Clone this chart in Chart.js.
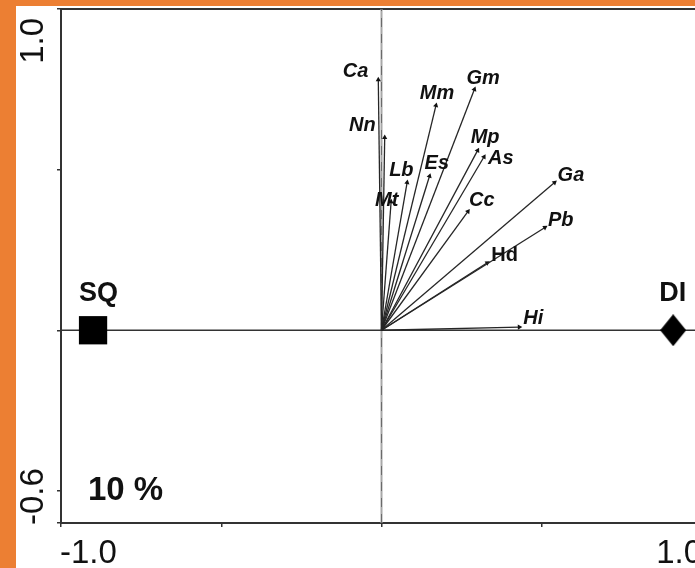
<!DOCTYPE html>
<html>
<head>
<meta charset="utf-8">
<script src="https://cdn.jsdelivr.net/npm/chart.js@4.4.0/dist/chart.umd.min.js"></script>
<style>
  html, body { margin: 0; padding: 0; width: 695px; height: 568px; overflow: hidden; background: #fff; }
  #wrap { position: absolute; left: 0; top: -11px; width: 740px; height: 579px; }
  .band { position: absolute; background: #ec7f33; z-index: 2; }
</style>
</head>
<body>
<div id="wrap"><canvas id="ord" width="740" height="579"></canvas></div>
<div class="band" style="left:0;top:0;width:16px;height:568px"></div>
<div class="band" style="left:0;top:0;width:695px;height:6px"></div>
<script>
// species arrows (axis 1 / axis 2 scores)
const speciesNames = ['Ca', 'Nn', 'Mm', 'Gm', 'Mp', 'As', 'Lb', 'Es', 'Mt', 'Cc', 'Ga', 'Pb', 'Hd', 'Hi'];
const speciesX = [-0.01, 0.01, 0.17, 0.29, 0.30, 0.32, 0.08, 0.15, 0.03, 0.27, 0.54, 0.51, 0.33, 0.43];
const speciesY = [0.78, 0.60, 0.70, 0.75, 0.56, 0.54, 0.46, 0.48, 0.40, 0.37, 0.46, 0.32, 0.21, 0.01];

// treatment centroids
const sampleNames = ['SQ', 'DI'];
const sampleX = [-0.90, 0.91];
const sampleY = [0, 0];

// axis ends
const xTickValues = [-1.0, 1.0];
const xTickLabels = ['-1.0', '1.0'];
const yTickValues = [-0.6, 1.0];
const yTickLabels = ['-0.6', '1.0'];
const explained = '10 %';

// label placement next to arrow tips: dx, dy (px), align
const labelPos = {
  Ca: [-10, -8, 'right'], Nn: [-9, -12, 'right'], Mm: [1, -12, 'center'], Gm: [-8, -11, 'left'],
  Mp: [-7, -13, 'left'], As: [4, 2, 'left'], Lb: [-18, -12, 'left'], Es: [-5, -13, 'left'],
  Mt: [-16, -1, 'left'], Cc: [1, -11, 'left'], Ga: [3, -7, 'left'], Pb: [3, -7, 'left'],
  Hd: [4, -7, 'left'], Hi: [4, -9, 'left']
};

function diamond(w, h) {
  const c = document.createElement('canvas');
  c.width = w; c.height = h;
  const g = c.getContext('2d');
  g.fillStyle = '#000';
  g.beginPath();
  g.moveTo(w / 2, 0); g.lineTo(w, h / 2); g.lineTo(w / 2, h); g.lineTo(0, h / 2);
  g.closePath(); g.fill();
  return c;
}

const datasets = [];

// zero lines (high order = drawn underneath)
datasets.push({
  data: [{x: 0, y: yTickValues[0]}, {x: 0, y: yTickValues[1]}],
  borderColor: '#a8a8a8', borderWidth: 2, pointRadius: 0, showLine: true, order: 12
});
datasets.push({
  data: [{x: 0, y: yTickValues[0]}, {x: 0, y: yTickValues[1]}],
  borderColor: '#6a6a6a', borderWidth: 1, borderDash: [9, 7], pointRadius: 0, showLine: true, order: 11
});
datasets.push({
  data: [{x: xTickValues[0], y: 0}, {x: xTickValues[1], y: 0}],
  borderColor: '#333', borderWidth: 1.5, pointRadius: 0, showLine: true, order: 10
});

speciesNames.forEach((name, i) => {
  const ang = Math.atan2(speciesX[i], speciesY[i]) * 180 / Math.PI;
  datasets.push({
    data: [{x: 0, y: 0}, {x: speciesX[i], y: speciesY[i]}],
    borderColor: '#262626', borderWidth: 1.3, showLine: true, order: 1,
    pointStyle: 'triangle', pointRadius: [0, 3], pointRotation: [0, ang],
    pointBackgroundColor: '#111', pointBorderColor: '#111', pointBorderWidth: 0
  });
});

datasets.push({
  data: [{x: sampleX[0], y: sampleY[0]}], order: 0,
  pointStyle: 'rect', pointRadius: 20, pointBackgroundColor: '#000', pointBorderColor: '#000', pointBorderWidth: 0
});
datasets.push({
  data: [{x: sampleX[1], y: sampleY[1]}], order: 0,
  pointStyle: diamond(26, 32), pointRadius: 16
});

const textPlugin = {
  id: 'texts',
  beforeDatasetsDraw(chart) {
    // top frame line
    const a = chart.chartArea, ctx = chart.ctx;
    ctx.save();
    ctx.strokeStyle = '#333';
    ctx.lineWidth = 2;
    ctx.beginPath();
    ctx.moveTo(a.left - 1, a.top);
    ctx.lineTo(a.right, a.top);
    ctx.stroke();
    ctx.restore();
  },
  afterDraw(chart) {
    const ctx = chart.ctx;
    const xs = chart.scales.x, ys = chart.scales.y;
    const a = chart.chartArea;
    ctx.save();
    ctx.fillStyle = '#111';

    // species labels
    ctx.textBaseline = 'middle';
    speciesNames.forEach((name, i) => {
      const p = labelPos[name];
      ctx.font = (name === 'Hd' ? 'bold' : 'italic bold') + ' 20px "Liberation Sans", Arial, sans-serif';
      ctx.textAlign = p[2];
      ctx.fillText(name, xs.getPixelForValue(speciesX[i]) + p[0], ys.getPixelForValue(speciesY[i]) + p[1]);
    });

    // sample labels
    ctx.font = 'bold 27px "Liberation Sans", Arial, sans-serif';
    ctx.textAlign = 'left';
    ctx.textBaseline = 'alphabetic';
    sampleNames.forEach((name, i) => {
      ctx.fillText(name, xs.getPixelForValue(sampleX[i]) - 14, ys.getPixelForValue(sampleY[i]) - 29);
    });

    // explained variance
    ctx.font = 'bold 33px "Liberation Sans", Arial, sans-serif';
    ctx.fillText(explained, a.left + 27, a.bottom - 23);

    // axis end labels
    ctx.font = '33px "Liberation Sans", Arial, sans-serif';
    ctx.textAlign = 'left';
    ctx.fillText(xTickLabels[0], xs.getPixelForValue(xTickValues[0]) - 1, a.bottom + 40);
    ctx.textAlign = 'right';
    ctx.fillText(xTickLabels[1], xs.getPixelForValue(xTickValues[1]), a.bottom + 40);

    [0, 1].forEach(k => {
      ctx.save();
      ctx.translate(43, ys.getPixelForValue(yTickValues[k]));
      ctx.rotate(-Math.PI / 2);
      ctx.textAlign = k === 0 ? 'left' : 'right';
      ctx.fillText(yTickLabels[k], k === 0 ? -2 : -9, 0);
      ctx.restore();
    });
    ctx.restore();
  }
};

new Chart(document.getElementById('ord'), {
  type: 'scatter',
  data: { datasets: datasets },
  plugins: [textPlugin],
  options: {
    responsive: false,
    animation: false,
    devicePixelRatio: 1,
    layout: { padding: { top: 9, right: 38, left: 0, bottom: 0 } },
    plugins: { legend: { display: false }, tooltip: { enabled: false } },
    scales: {
      x: {
        type: 'linear', min: xTickValues[0], max: xTickValues[1],
        ticks: { display: false, stepSize: 0.5 },
        grid: { display: true, drawOnChartArea: false, drawTicks: true, tickLength: 4, color: '#333', lineWidth: 1.5 },
        border: { display: true, color: '#333', width: 2 },
        afterFit: s => { s.height = 45; }
      },
      y: {
        type: 'linear', min: yTickValues[0], max: yTickValues[1],
        ticks: { display: false, stepSize: 0.5 },
        grid: { display: true, drawOnChartArea: false, drawTicks: true, tickLength: 4, color: '#333', lineWidth: 1.5 },
        border: { display: true, color: '#333', width: 2 },
        afterFit: s => { s.width = 61; }
      }
    }
  }
});
</script>
</body>
</html>
